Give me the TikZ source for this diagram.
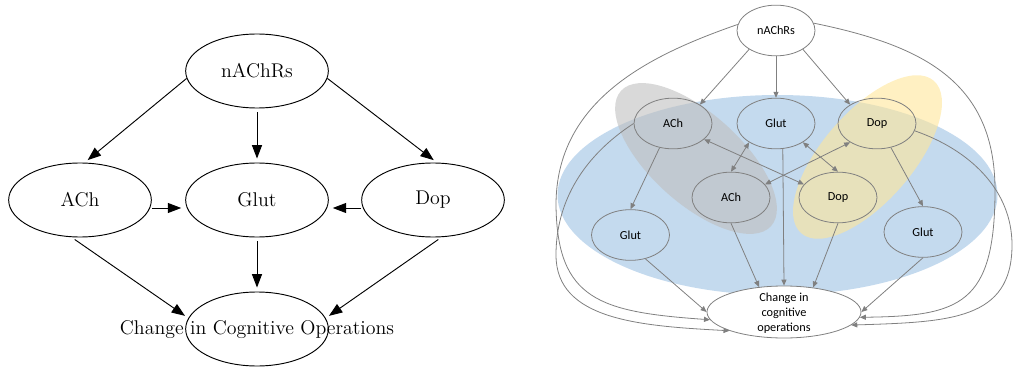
\documentclass[tikz,border=0pt]{standalone}
\usepackage{fontspec}
\newfontfamily\calibri{Carlito}
\usepackage{tikz}
\usetikzlibrary{shapes.geometric}
\usetikzlibrary{arrows.meta}
\definecolor{bgblue}{RGB}{196,218,238}
\definecolor{bggray}{RGB}{191,191,191}
\definecolor{bgyellow}{RGB}{255,230,153}
\definecolor{edgegray}{RGB}{128,128,128}

\begin{document}
\begin{tikzpicture}[x=0.75pt, y=-0.75pt,
		lnode/.style={ellipse, draw, line width=0.7pt, minimum width=107pt, minimum height=55.5pt, inner sep=0pt, font=\fontsize{14.9}{18}\selectfont},
		ledge/.style={-{Triangle[length=10pt,width=7.5pt]}, line width=0.7pt, shorten >=3pt, shorten <=3pt},
		rnode/.style={ellipse, draw=edgegray, line width=0.6pt, minimum width=58.5pt, minimum height=38pt, inner sep=0pt, font=\calibri\fontsize{9.2}{11.2}\selectfont},
		redge/.style={draw=edgegray, line width=0.6pt, -{Triangle[length=4.5pt,width=3.8pt]}},
		rboth/.style={redge, {Triangle[length=4.5pt,width=3.8pt]}-{Triangle[length=4.5pt,width=3.8pt]}}]
			\useasboundingbox (0,0) rectangle (1013,367);
			% Left graph: nodes
			\node[lnode] (nachL) at (257,71) {nAChRs};
			\node[lnode] (achL) at (80,200) {ACh};
			\node[lnode] (glutL) at (257,200) {Glut};
			\node[lnode] (dopL) at (433,200) {Dop};
			\node[lnode] (chgL) at (257,329) {};
			\node[font=\fontsize{14.9}{18}\selectfont] (chgLtext) at (257,330) {Change in Cognitive Operations};
			% Left graph: edges
			\draw[ledge, shorten <=0pt] (nachL.186) -- (achL.83);
			\draw[ledge] (nachL.south) -- (glutL.north);
			\draw[ledge, shorten <=0pt] (nachL.354) -- (dopL.84);
			\draw[ledge, shorten <=0pt] ([yshift=-6pt]achL.east) -- ([yshift=-6pt]glutL.west);
			\draw[ledge, shorten <=0pt] ([yshift=-6pt]dopL.west) -- ([yshift=-6pt]glutL.east);
			\draw[ledge] (glutL.south) -- (chgL.north);
			\draw[ledge] (achL.257) -- (chgL.171);
			\draw[ledge] (dopL.283) -- (chgL.9);
			% Right graph: shaded areas
			\fill[bgblue] (777.5,195) ellipse [x radius=220, y radius=100];
			\begin{scope}[shift={(696,158.5)}, rotate=-42]
				\fill[bggray, opacity=0.6] (0,0) ellipse [x radius=101, y radius=45];
			\end{scope}
			\begin{scope}[shift={(867.5,157)}, rotate=49]
				\fill[bgyellow, opacity=0.6] (0,0) ellipse [x radius=101, y radius=45];
			\end{scope}
			% Right graph: nodes
			\node[rnode, fill=white] (nachR) at (776,30.5) {nAChRs};
			\node[rnode] (achR) at (673,123.5) {ACh};
			\node[rnode] (glutR) at (776,123.5) {Glut};
			\node[rnode] (dopR) at (877,123.5) {Dop};
			\node[rnode] (achM) at (731,197.5) {ACh};
			\node[rnode] (dopM) at (838,197.5) {Dop};
			\node[rnode] (glutA) at (630.5,235) {Glut};
			\node[rnode] (glutB) at (923,232) {Glut};
			\node[rnode, fill=white, minimum width=115.5pt, minimum height=39pt] (chgR) at (784,312) {};
			\node[font=\calibri\fontsize{9.2}{11.2}\selectfont, align=center] (chgRtext) at (784,313) {Change in\\cognitive\\operations};
			% Right graph: edges
			\draw[redge] (nachR.215) -- (achR.35);
			\draw[redge] (nachR.south) -- (glutR.north);
			\draw[redge] (nachR.325) -- (dopR.145);
			\draw[redge] (achR.241) -- (glutA.north);
			\draw[redge] (dopR.300) -- (glutB.north);
			\draw[rboth] (glutR.215) -- (achM.north);
			\draw[rboth] (glutR.325) -- (dopM.north);
			\draw[rboth] (achR.333) -- (dopM.159);
			\draw[rboth] (dopR.215) -- (achM.21);
			\draw[redge] (achM.south) -- (chgR.135);
			\draw[redge] (glutR.285) -- (chgR.north);
			\draw[redge] (dopM.south) -- (chgR.40);
			\draw[redge] (glutA.302) -- (chgR.west);
			\draw[redge] (glutB.south) -- (chgR.east);
			% Right graph: long curved edges
			\draw[redge] (nachR.171) .. controls (650,55) and (556,100) .. (556,205) .. controls (557,300) and (600,312) .. (chgR.186);
			\draw[redge] (achR.west) .. controls (585,155) and (556,200) .. (556,255) .. controls (556,320) and (640,326) .. (chgR.199);
			\draw[redge] (nachR.11) .. controls (920,45) and (995,80) .. (995,190) .. controls (995,305) and (960,316) .. (chgR.356);
			\draw[redge] (dopR.349) .. controls (970,150) and (1012,190) .. (1012,245) .. controls (1012,320) and (950,322) .. (chgR.349);
		\end{tikzpicture}
\end{document}
